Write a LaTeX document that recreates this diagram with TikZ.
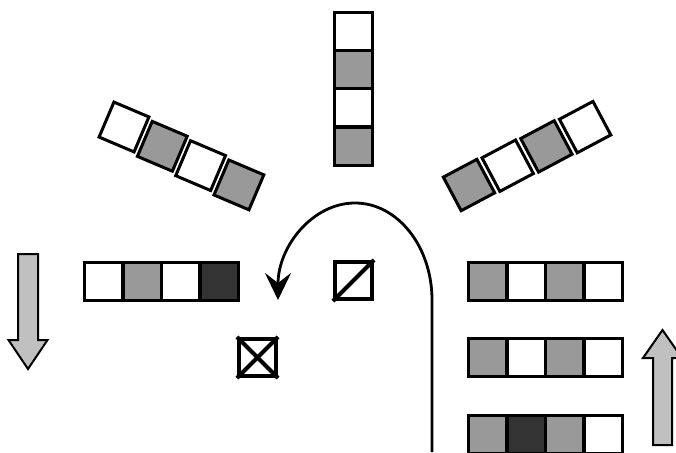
\documentclass[tikz,border=0pt]{standalone}
\usetikzlibrary{arrows.meta}
\definecolor{cellgray}{HTML}{999999}
\definecolor{celldark}{HTML}{333333}
\definecolor{arrowgray}{HTML}{C0C0C0}

\begin{document}
\begin{tikzpicture}[x=1pt, y=-1pt,
    cell/.style={draw, line width=3pt, inner sep=0pt, minimum size=38pt},
    markbox/.style={draw, line width=3.6pt, inner sep=0pt, minimum size=37.5pt},
    blockarrow/.style={draw, line width=2pt, fill=arrowgray, line join=miter}]
    \useasboundingbox (0,0) rectangle (676,452);

    % column at the top
    \foreach \c [count=\i] in {white,cellgray,white,cellgray} {
        \pgfmathsetmacro{\y}{31.2 + (\i - 1)*38.3}
        \node[cell, fill=\c] (V\i) at (353.5, \y) {};
    }
    % tilted rows
    \foreach \c [count=\i] in {white,cellgray,white,cellgray} {
        \pgfmathsetmacro{\x}{124 + (\i - 1)*38.3}
        \pgfmathsetmacro{\y}{127 + (\i - 1)*19.3}
        \node[cell, fill=\c, rotate=-23] (L\i) at (\x, \y) {};
    }
    \foreach \c [count=\i] in {cellgray,white,cellgray,white} {
        \pgfmathsetmacro{\x}{469 + (\i - 1)*38.7}
        \pgfmathsetmacro{\y}{185 - (\i - 1)*19.3}
        \node[cell, fill=\c, rotate=28] (R\i) at (\x, \y) {};
    }
    % straight rows
    \foreach \c [count=\i] in {white,cellgray,white,celldark} {
        \pgfmathsetmacro{\x}{103.4 + (\i - 1)*38.75}
        \node[cell, fill=\c] (A\i) at (\x, 281.5) {};
    }
    \foreach \c [count=\i] in {cellgray,white,cellgray,white} {
        \pgfmathsetmacro{\x}{487.4 + (\i - 1)*38.75}
        \node[cell, fill=\c] (B\i) at (\x, 281.5) {};
    }
    \foreach \c [count=\i] in {cellgray,white,cellgray,white} {
        \pgfmathsetmacro{\x}{487.4 + (\i - 1)*38.75}
        \node[cell, fill=\c] (C\i) at (\x, 357.5) {};
    }
    \foreach \c [count=\i] in {cellgray,celldark,cellgray,white} {
        \pgfmathsetmacro{\x}{487.4 + (\i - 1)*38.75}
        \node[cell, fill=\c] (E\i) at (\x, 434.4) {};
    }

    % marked boxes
    \node[markbox] (diag) at (353.5, 280.5) {};
    \draw[line width=4pt] (diag.south west) -- (diag.north east);
    \node[markbox] (cross) at (257.5, 357.5) {};
    \draw[line width=4pt] (cross.south west) -- (cross.north east);
    \draw[line width=4pt] (cross.north west) -- (cross.south east);

    % turn
    \coordinate (turnstart) at (432, 452);
    \coordinate (turnmid) at (432, 300);
    \draw[line width=2.8pt, -{Stealth[length=27pt, width=26pt, inset=10pt]}]
        (turnstart) -- (turnmid) arc[start angle=0, end angle=-180, x radius=77, y radius=97];

    % block arrows
    \draw[blockarrow] (18,254) -- (38,254) -- (38,340) -- (47.5,340) -- (28,369)
        -- (8.5,340) -- (18,340) -- cycle;
    \draw[blockarrow] (653,445) -- (672,445) -- (672,358) -- (682,358) -- (662.5,330)
        -- (643,358) -- (653,358) -- cycle;
\end{tikzpicture}
\end{document}
